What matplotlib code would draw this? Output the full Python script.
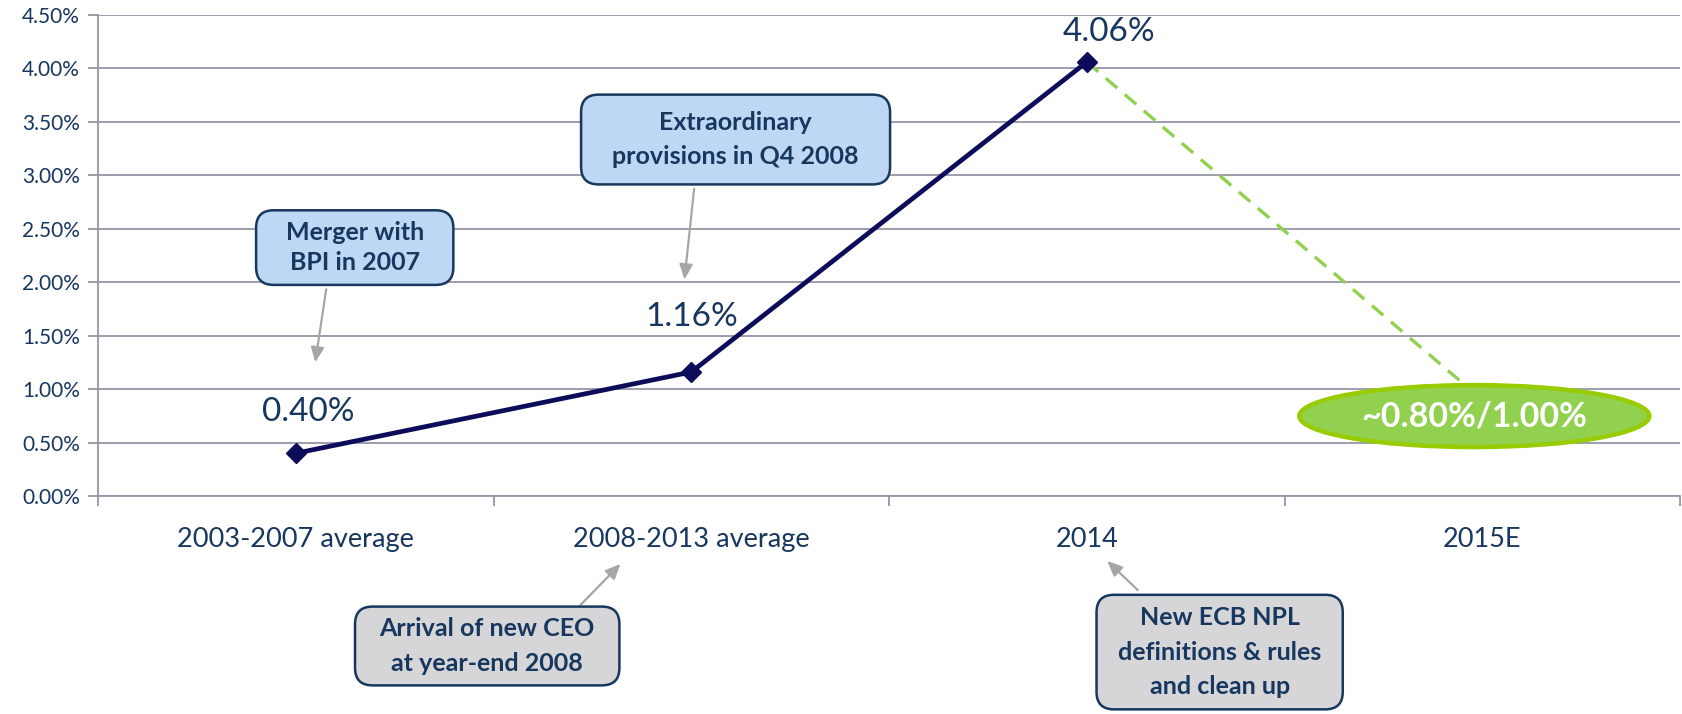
import numpy as np
import matplotlib.pyplot as plt
from matplotlib.patches import Ellipse, BoxStyle
from matplotlib.ticker import PercentFormatter

plt.rcParams['font.family'] = ['Lato', 'DejaVu Sans']

categories = ['2003-2007 average', '2008-2013 average', '2014', '2015E']
actual = [0.40, 1.16, 4.06]       # % of loans
estimate = [4.06, 0.90]           # 2014 -> 2015E guidance midpoint
estimate_text = '~0.80%/1.00%'

navy = '#0C0C5A'
txt = '#17375E'
grid = '#9595A8'
green = '#92D050'


class WideRound(BoxStyle.Round):
    # rounded box with extra horizontal / vertical room around the text
    def __init__(self, pad=0.3, rounding_size=None, xpad=0.0, ypad=0.0):
        super().__init__(pad, rounding_size)
        self.xpad = xpad
        self.ypad = ypad

    def __call__(self, x0, y0, width, height, mutation_size):
        ex = self.xpad * mutation_size
        ey = self.ypad * mutation_size
        return super().__call__(x0 - ex, y0 - ey, width + 2 * ex, height + 2 * ey, mutation_size)


fig = plt.figure(figsize=(16.82, 7.14), dpi=100)
ax = fig.add_axes([0.0583, 0.3053, 0.9405, 0.6737])

x = np.arange(len(categories))

ax.plot(x[2:4], estimate, color=green, lw=2.4, ls=(0, (4.5, 3)), zorder=3)
ax.plot(x[:3], actual, color=navy, lw=3.4, marker='D', ms=10, zorder=4)

# value labels
offs = [(9, 23), (0, 33), (16, 15)]
for xi, v, o in zip(x[:3], actual, offs):
    ax.annotate('%.2f%%' % v, (xi, v), xytext=o, textcoords='offset points',
                ha='center', va='baseline', fontsize=24, color=txt)

ax.set_xlim(-0.5, 3.5)
ax.set_ylim(0, 4.5)
ax.set_yticks(np.arange(0, 4.51, 0.5))
ax.yaxis.set_major_formatter(PercentFormatter(decimals=2))
ax.grid(axis='y', color=grid, lw=1.3)
ax.set_axisbelow(True)

ax.set_xticks(np.arange(-0.5, 3.6, 1))
ax.set_xticklabels([])
ax.set_xticks(x, minor=True)
ax.set_xticklabels(categories, minor=True)
ax.tick_params(axis='x', which='major', length=7, color=grid, width=1.3, direction='out')
ax.tick_params(axis='x', which='minor', length=0, pad=22, labelsize=19.5, labelcolor=txt)
ax.tick_params(axis='y', length=7, color=grid, width=1.3, labelsize=15, labelcolor=txt, pad=6)

for s in ['top', 'right']:
    ax.spines[s].set_visible(False)
for s in ['left', 'bottom']:
    ax.spines[s].set_color(grid)
    ax.spines[s].set_linewidth(1.3)

# callouts: text, centre, fill, line spacing, extra x / y room, arrow tip, arrow start
arrow = dict(arrowstyle='-|>,head_length=0.9,head_width=0.4', color='#A6A6A6', lw=1.6)
notes = [
    ('Merger with\nBPI in 2007', (0.149, 2.324), '#BDD7F5', 1.40, 0.78, 0.02,
     (0.048, 1.225), (0.078, 1.96)),
    ('Extraordinary\nprovisions in Q4 2008', (1.112, 3.335), '#BDD7F5', 1.62, 0.85, 0.24,
     (0.982, 2.0), (1.008, 2.90)),
    ('Arrival of new CEO\nat year-end 2008', (0.484, -1.403), '#D6D6D8', 1.62, 0.58, 0.02,
     (0.826, -0.617), (0.715, -1.038)),
    ('New ECB NPL\ndefinitions & rules\nand clean up', (2.336, -1.46), '#D6D6D8', 1.62, 0.46, 0.04,
     (2.047, -0.59), (2.134, -0.898)),
]
for label, pos, fc, ls, xp, yp, tip, start in notes:
    ax.annotate('', xy=tip, xytext=start, arrowprops=arrow, annotation_clip=False, zorder=5)
    box = dict(boxstyle=WideRound(pad=0.4, rounding_size=0.7, xpad=xp, ypad=yp),
               fc=fc, ec=txt, lw=1.8)
    ax.text(pos[0], pos[1], label, ha='center', va='center', fontsize=18, fontweight='bold',
            color=txt, bbox=box, linespacing=ls, clip_on=False, zorder=6)

ell = Ellipse((2.98, 0.748), 0.885, 0.58, fc=green, ec='#99CC00', lw=3.2, zorder=6, clip_on=False)
ax.add_patch(ell)
ax.text(2.98, 0.748, estimate_text, ha='center', va='center', fontsize=24.5, fontweight='bold',
        color='white', zorder=7)

fig.savefig('out.png', dpi=100)
